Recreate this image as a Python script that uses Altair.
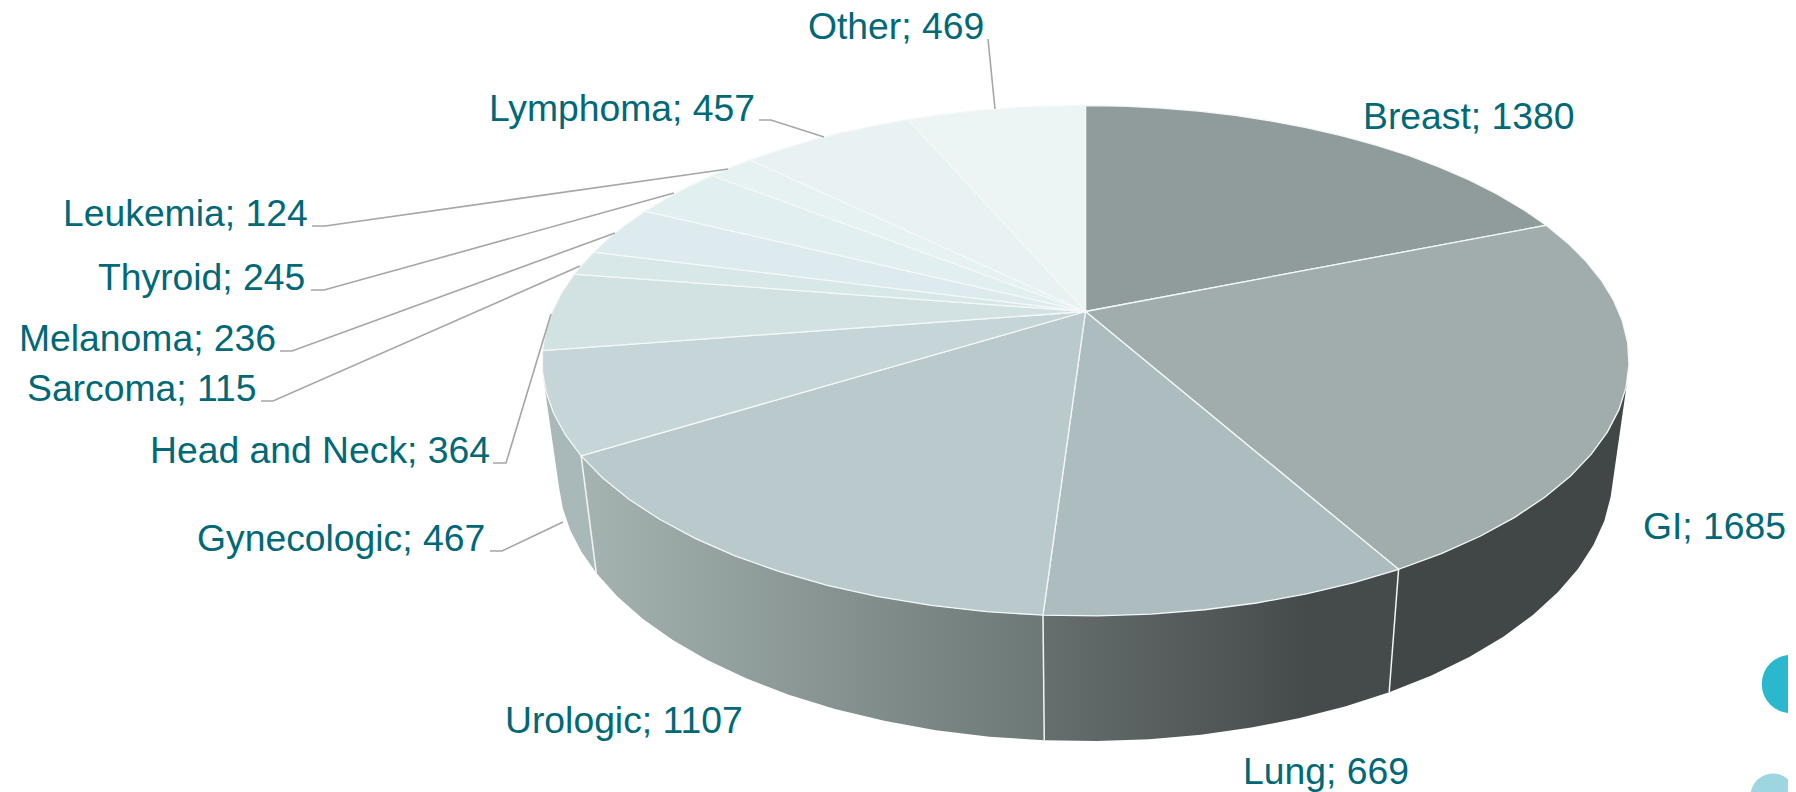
import math
import altair as alt
import pandas as pd

names = ["Breast", "GI", "Lung", "Urologic", "Gynecologic", "Head and Neck", "Sarcoma",
         "Melanoma", "Thyroid", "Leukemia", "Lymphoma", "Other"]
values = [1380, 1685, 669, 1107, 467, 364, 115, 236, 245, 124, 457, 469]
top_colors = ["#8f9c9b", "#a0adac", "#adbcbf", "#bac9cc", "#c6d5d7", "#d2e2e3",
              "#d8e7e8", "#ddebee", "#e2eff0", "#e6f1f2", "#e9f2f3", "#edf5f4"]
label_x = [1363, 1643, 1243, 505, 197, 150, 27, 19, 98, 63, 489, 808]
label_y = [129, 539, 784, 733, 551, 463, 401, 351, 290, 226, 121, 39]
leaders = {
    "Gynecologic": [(490, 551), (502, 551), (563, 522)],
    "Head and Neck": [(493, 463), (506, 463), (551, 314)],
    "Sarcoma": [(261, 401), (273, 401), (580, 266)],
    "Melanoma": [(280, 351), (292, 351), (615, 233)],
    "Thyroid": [(311, 290), (324, 290), (674, 193)],
    "Leukemia": [(312, 226), (325, 226), (728, 169)],
    "Lymphoma": [(759, 120), (771, 120), (824, 137)],
    "Other": [(988, 39), (995, 109)],
}
TEXT = "#006877"
LINE = "#a6a6a6"

# disc projection
CX, CY, A, B, K = 1085.5, 311.5, 533.3, 245.7, 0.193
BX, BY0, BY = 0.97, 421.5, 1.05
STEP = 5.0


def rim(deg):
    t = math.radians(deg)
    u, v = math.sin(t), -math.cos(t)
    d = 1 - K * v
    return CX + A * u / d, CY + B * v / d


def low(deg):
    x, y = rim(deg)
    return CX + BX * (x - CX), BY0 + BY * (y - CY)


def sweep(a0, a1):
    n = max(2, int(abs(a1 - a0) / STEP) + 2)
    return [a0 + (a1 - a0) * i / (n - 1) for i in range(n)]


total = sum(values)
edges = [0]
for v in values:
    edges.append(edges[-1] + v / total * 360)

X = alt.X("x:Q", axis=None, scale=alt.Scale(domain=[8, 1788], nice=False, zero=False))
Y = alt.Y("y:Q", axis=None, scale=alt.Scale(domain=[792, 8], nice=False, zero=False))


def poly(points, fill, stroke=None, sw=0):
    df = pd.DataFrame([{"x": p[0], "y": p[1], "i": i} for i, p in enumerate(points)])
    kw = dict(fill=fill, clip=True, interpolate="linear-closed")
    if stroke:
        kw.update(stroke=stroke, strokeWidth=sw)
    else:
        kw.update(strokeWidth=0)
    return alt.Chart(df).mark_line(**kw).encode(x=X, y=Y, order=alt.Order("i:Q"))


def grad(*stops):
    return alt.Gradient(gradient="linear", x1=0, x2=1, y1=0, y2=0,
                        stops=[alt.GradientStop(color=c, offset=o) for c, o in stops])


def wall(a0, a1, fill):
    a = sweep(a0, a1)
    return poly([rim(t) for t in a] + [low(t) for t in reversed(a)], fill)


layers = []
# side wall of the visible front half
layers.append(wall(106, edges[2], "#414746"))
layers.append(wall(edges[2], edges[3], grad(("#666e6e", 0), ("#454b4a", 0.75), ("#454b4a", 1))))
layers.append(wall(edges[3], edges[4], grad(("#a5b3b1", 0), ("#6c7876", 1))))
layers.append(wall(edges[4], 256, "#a9b8b9"))

# separators on the wall
sep_rows = []
for k, e in enumerate([edges[2], edges[3], edges[4]]):
    for i, p in enumerate([rim(e), low(e)]):
        sep_rows.append({"x": p[0], "y": p[1], "i": i, "k": k})
layers.append(alt.Chart(pd.DataFrame(sep_rows)).mark_line(stroke="#f2f5f5", strokeWidth=1.5)
              .encode(x=X, y=Y, order=alt.Order("i:Q"), detail="k:N"))

# disc
for idx, c in enumerate(top_colors):
    pts = [(CX, CY)] + [rim(t) for t in sweep(edges[idx], edges[idx + 1])]
    layers.append(poly(pts, c, "#f4f7f7", 1.3))

# leaders
lead_rows = []
for name, pts in leaders.items():
    for i, p in enumerate(pts):
        lead_rows.append({"x": p[0], "y": p[1], "i": i, "name": name})
layers.append(alt.Chart(pd.DataFrame(lead_rows)).mark_line(stroke=LINE, strokeWidth=1.6)
              .encode(x=X, y=Y, order=alt.Order("i:Q"), detail="name:N"))

# labels
lab = pd.DataFrame({"x": label_x, "y": label_y,
                    "t": [f"{n}; {v}" for n, v in zip(names, values)]})
layers.append(alt.Chart(lab).mark_text(font="Liberation Sans", fontSize=37.3, color=TEXT,
                                       align="left", baseline="alphabetic")
              .encode(x=X, y=Y, text="t:N"))

# decorative circles at the corner
circle_x = [1791, 1773, 1801]
circle_y = [684, 796, 797]
circle_size = [3421, 2030, 616]
circle_color = ["#2bb8cc", "#9dd5e0", "#e5e5e5"]
circ = pd.DataFrame({"x": circle_x, "y": circle_y, "s": circle_size, "c": circle_color})
layers.append(alt.Chart(circ).mark_point(filled=True, opacity=1, shape="circle", clip=True)
              .encode(x=X, y=Y, size=alt.Size("s:Q", scale=None, legend=None),
                      color=alt.Color("c:N", scale=None, legend=None)))

chart = alt.layer(*layers).properties(
    width=1780, height=784, padding=0, autosize=alt.AutoSizeParams(type="none"),
    background="white", view=alt.ViewConfig(stroke=None))
chart.save("out.html", embed_options={"renderer": "svg", "actions": False})
